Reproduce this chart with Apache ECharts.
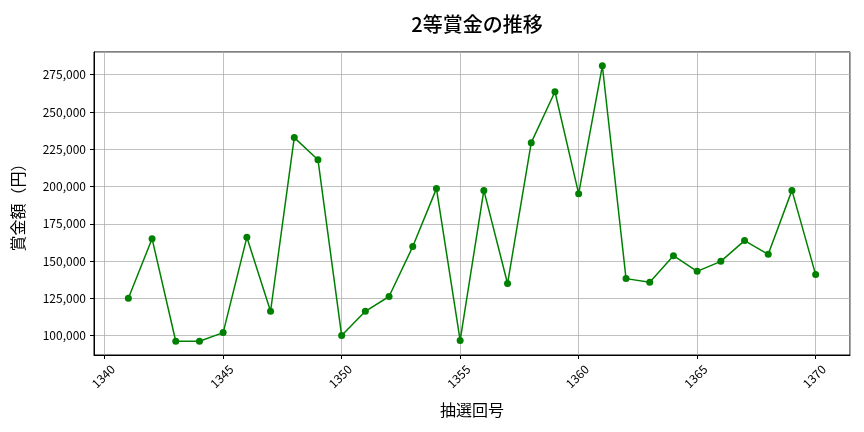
<!DOCTYPE html>
<html>
<head>
<meta charset="utf-8">
<script src="https://cdn.jsdelivr.net/npm/echarts@6/dist/echarts.min.js"></script>
<style>html,body{margin:0;padding:0;background:#fff}#c{width:864px;height:432px}</style>
</head>
<body>
<div id="c"></div>
<script>
const rounds = [1341,1342,1343,1344,1345,1346,1347,1348,1349,1350,1351,1352,1353,1354,1355,1356,1357,1358,1359,1360,1361,1362,1363,1364,1365,1366,1367,1368,1369,1370];
const prizes = [125000,165000,96200,96200,102000,165900,116300,232800,218000,100000,116300,126200,159700,198600,96700,197400,134900,229400,263600,195200,281000,138200,135700,153600,143100,149800,163700,154500,197400,140900];
const titleText = '2等賞金の推移';
const xName = '抽選回号';
const yName = '賞金額（円）';

const chart = echarts.init(document.getElementById('c'));
const font = '"Noto Sans CJK JP", "Noto Sans", sans-serif';
const span = (a) => { const mn = Math.min(...a), mx = Math.max(...a), m = (mx - mn) * 0.05; return [mn - m, mx + m]; };
const xr = span(rounds), yr = span(prizes);
chart.setOption({
  animation: false,
  textStyle: { fontFamily: font },
  title: {
    text: titleText, left: 472, top: 9, textAlign: 'center',
    textStyle: { fontFamily: font, fontSize: 20, fontWeight: 500, color: '#000' }
  },
  grid: { left: 94, right: 14, top: 52, bottom: 77, show: true, borderColor: '#000', borderWidth: 1, backgroundColor: 'transparent' },
  xAxis: {
    type: 'value', min: xr[0], max: xr[1], minInterval: 5, maxInterval: 5,
    name: xName, nameLocation: 'middle', nameGap: 47,
    nameTextStyle: { fontFamily: font, fontSize: 16, color: '#000' },
    axisLine: { show: true, lineStyle: { color: '#000', width: 1 } },
    axisTick: { show: true, length: 4, lineStyle: { color: '#000' } },
    axisLabel: { rotate: 45, align: 'center', verticalAlign: 'middle', margin: 20, fontSize: 12, color: '#000', fontFamily: font, showMinLabel: false, showMaxLabel: false,
      padding: [0, 4, 0, 0],
      formatter: v => String(Math.round(v)) },
    splitLine: { show: true, lineStyle: { color: '#b0b0b0', width: 0.8 } }
  },
  yAxis: {
    type: 'value', min: yr[0], max: yr[1], minInterval: 25000, maxInterval: 25000,
    name: yName, nameLocation: 'middle', nameGap: 68,
    nameTextStyle: { fontFamily: font, fontSize: 16, color: '#000' },
    axisLine: { show: true, lineStyle: { color: '#000', width: 1 } },
    axisTick: { show: true, length: 4, lineStyle: { color: '#000' } },
    axisLabel: { margin: 8, fontSize: 12, color: '#000', fontFamily: font, showMinLabel: false, showMaxLabel: false,
      formatter: v => v.toLocaleString('en-US') },
    splitLine: { show: true, lineStyle: { color: '#b0b0b0', width: 0.8 } }
  },
  series: [{
    type: 'line',
    data: rounds.map((r, i) => [r, prizes[i]]),
    symbol: 'circle', symbolSize: 7,
    itemStyle: { color: '#008000' },
    lineStyle: { color: '#008000', width: 1.5 }
  }]
});
</script>
</body>
</html>
